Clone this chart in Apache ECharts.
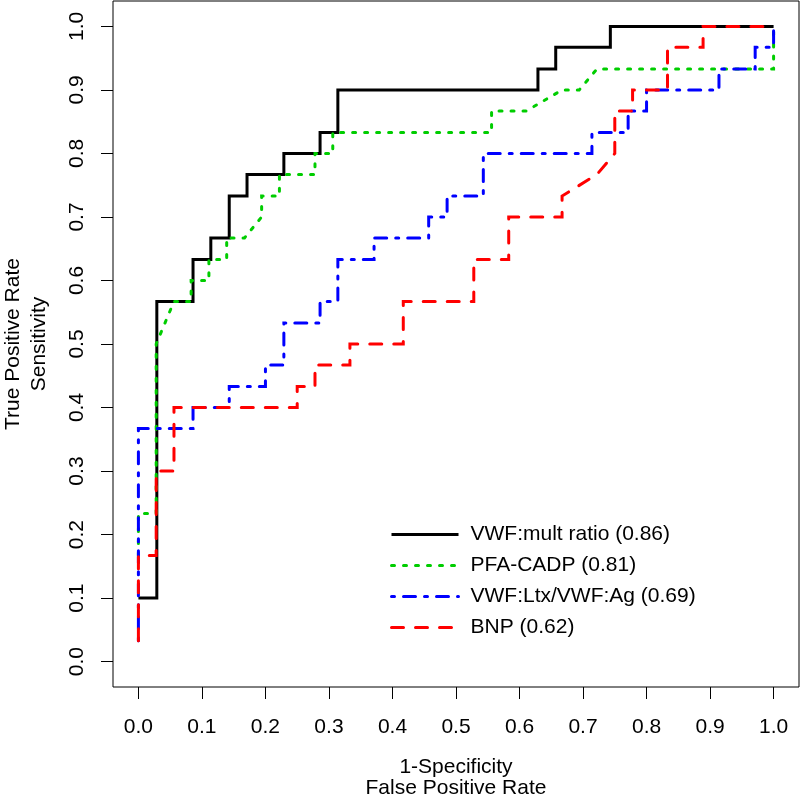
<!DOCTYPE html>
<html>
<head>
<meta charset="utf-8">
<script src="https://cdn.jsdelivr.net/npm/echarts@6/dist/echarts.min.js"></script>
<style>html,body{margin:0;padding:0;background:#fff}#chart{width:800px;height:800px}</style>
</head>
<body>
<div id="chart"></div>
<script>
// ---- data ----
const tickValues = [0, 0.1, 0.2, 0.3, 0.4, 0.5, 0.6, 0.7, 0.8, 0.9, 1.0];
const seriesNames = ["VWF:mult ratio (0.86)", "PFA-CADP (0.81)", "VWF:Ltx/VWF:Ag (0.69)", "BNP (0.62)"];
const xTitle = "1-Specificity\nFalse Positive Rate";
const yTitle = "True Positive Rate\nSensitivity";

const multFpr = [0, 0.029, 0.029, 0.086, 0.086, 0.114, 0.114, 0.143, 0.143, 0.171, 0.171, 0.229, 0.229, 0.286, 0.286, 0.314, 0.314, 0.629, 0.629, 0.657, 0.657, 0.743, 0.743, 1.0];
const multTpr = [0.1, 0.1, 0.567, 0.567, 0.633, 0.633, 0.667, 0.667, 0.733, 0.733, 0.767, 0.767, 0.8, 0.8, 0.833, 0.833, 0.9, 0.9, 0.933, 0.933, 0.967, 0.967, 1.0, 1.0];

const pfaFpr = [0, 0, 0.028, 0.028, 0.056, 0.083, 0.083, 0.111, 0.111, 0.139, 0.139, 0.167, 0.194, 0.194, 0.222, 0.222, 0.278, 0.278, 0.306, 0.306, 0.556, 0.556, 0.611, 0.667, 0.694, 0.722, 1.0, 1.0];
const pfaTpr = [0.167, 0.233, 0.233, 0.5, 0.567, 0.567, 0.6, 0.6, 0.633, 0.633, 0.667, 0.667, 0.7, 0.733, 0.733, 0.767, 0.767, 0.8, 0.8, 0.833, 0.833, 0.867, 0.867, 0.9, 0.9, 0.933, 0.933, 1.0];

const ltxFpr = [0, 0, 0.086, 0.086, 0.143, 0.143, 0.2, 0.2, 0.229, 0.229, 0.286, 0.286, 0.314, 0.314, 0.371, 0.371, 0.457, 0.457, 0.486, 0.486, 0.543, 0.543, 0.714, 0.714, 0.771, 0.771, 0.8, 0.8, 0.914, 0.914, 0.971, 0.971, 1.0, 1.0];
const ltxTpr = [0.033, 0.367, 0.367, 0.4, 0.4, 0.433, 0.433, 0.467, 0.467, 0.533, 0.533, 0.567, 0.567, 0.633, 0.633, 0.667, 0.667, 0.7, 0.7, 0.733, 0.733, 0.8, 0.8, 0.833, 0.833, 0.867, 0.867, 0.9, 0.9, 0.933, 0.933, 0.967, 0.967, 1.0];

const bnpFpr = [0, 0, 0.028, 0.028, 0.056, 0.056, 0.25, 0.25, 0.278, 0.278, 0.333, 0.333, 0.417, 0.417, 0.528, 0.528, 0.583, 0.583, 0.667, 0.667, 0.722, 0.75, 0.75, 0.778, 0.778, 0.833, 0.833, 0.889, 0.889, 1.0];
const bnpTpr = [0.033, 0.167, 0.167, 0.3, 0.3, 0.4, 0.4, 0.433, 0.433, 0.467, 0.467, 0.5, 0.5, 0.567, 0.567, 0.633, 0.633, 0.7, 0.7, 0.733, 0.767, 0.8, 0.867, 0.867, 0.9, 0.9, 0.967, 0.967, 1.0, 1.0];

// ---- styling ----
const FONT = "Liberation Sans";
const FS = 21;
const colors = ["#000000", "#00CD00", "#0000FF", "#FF0000"];
const dashes = ["solid", [3, 9], [3, 9, 12, 9], [12, 12]];
const caps = ["butt", "round", "round", "round"];

function zip(xs, ys) { return xs.map((x, i) => [x, ys[i]]); }
const curves = [zip(multFpr, multTpr), zip(pfaFpr, pfaTpr), zip(ltxFpr, ltxTpr), zip(bnpFpr, bnpTpr)];

const chart = echarts.init(document.getElementById('chart'));
const fmt = v => Number(v).toFixed(1);

chart.setOption({
  animation: false,
  backgroundColor: '#ffffff',
  textStyle: { fontFamily: FONT },
  grid: { left: 113, right: 1, top: 1, bottom: 113, containLabel: false, outerBoundsMode: 'none',
          show: true, borderColor: '#000', borderWidth: 1, backgroundColor: 'transparent' },
  xAxis: {
    type: 'value', min: -0.04, max: 1.04,
    axisLine: { show: false, onZero: false },
    splitLine: { show: false },
    axisTick: { show: true, inside: false, length: 12, customValues: tickValues, lineStyle: { color: '#000', width: 1 } },
    axisLabel: { customValues: tickValues, formatter: fmt, fontFamily: FONT, fontSize: FS, color: '#000', margin: 30 },
    name: xTitle, nameLocation: 'middle', nameGap: 70,
    nameTextStyle: { fontFamily: FONT, fontSize: FS, color: '#000', lineHeight: 21 }
  },
  yAxis: {
    type: 'value', min: -0.04, max: 1.04,
    axisLine: { show: false, onZero: false },
    splitLine: { show: false },
    axisTick: { show: true, inside: false, length: 12, customValues: tickValues, lineStyle: { color: '#000', width: 1 } },
    axisLabel: { customValues: tickValues, formatter: fmt, fontFamily: FONT, fontSize: FS, color: '#000', margin: 25, rotate: 90 },
    name: yTitle, nameLocation: 'middle', nameGap: 61, nameRotate: 90,
    nameTextStyle: { fontFamily: FONT, fontSize: FS, color: '#000', lineHeight: 26 }
  },
  legend: {
    orient: 'vertical', left: 390, top: 524, padding: 0,
    itemWidth: 67, itemHeight: 14, itemGap: 10,
    selectedMode: false,
    textStyle: { fontFamily: FONT, fontSize: FS, color: '#000', lineHeight: 20, padding: [0, 0, 0, 7] },
    itemStyle: { opacity: 0, color: 'transparent', borderWidth: 0 },
    lineStyle: { width: 3 },
    data: seriesNames
  },
  series: curves.map((d, i) => ({
    name: seriesNames[i], type: 'line', data: d,
    symbol: 'none', showSymbol: false, z: 2 + i,
    color: colors[i],
    lineStyle: { color: colors[i], width: 3, type: dashes[i], cap: caps[i], join: 'miter' }
  }))
});
</script>
</body>
</html>
